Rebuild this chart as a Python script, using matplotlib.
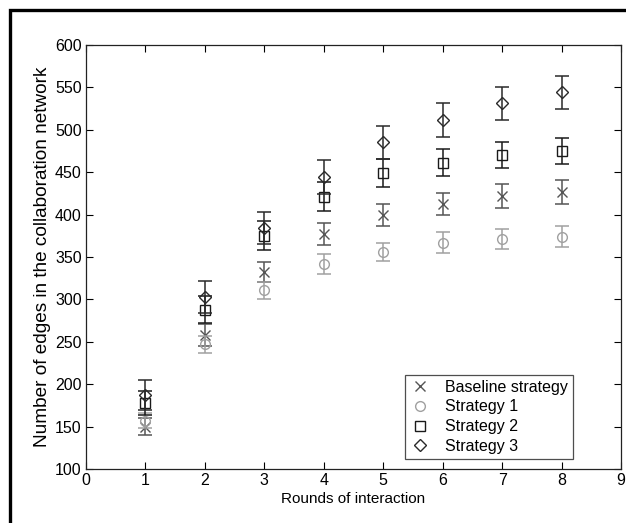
import matplotlib
matplotlib.use("Agg")
import matplotlib.pyplot as plt
from matplotlib.patches import Rectangle

plt.rcParams['font.family'] = ['Liberation Sans', 'DejaVu Sans']

rounds = [1, 2, 3, 4, 5, 6, 7, 8]

baseline = [150, 258, 332, 377, 399, 413, 422, 427]
baseline_err = [10, 13, 12, 13, 13, 13, 14, 14]

strategy1 = [157, 247, 311, 342, 356, 367, 371, 374]
strategy1_err = [9, 10, 10, 12, 11, 12, 12, 12]

strategy2 = [178, 288, 375, 421, 449, 461, 470, 475]
strategy2_err = [14, 16, 17, 17, 16, 16, 15, 15]

strategy3 = [187, 303, 384, 444, 485, 511, 531, 544]
strategy3_err = [18, 19, 19, 20, 20, 20, 20, 19]

series = [
    ("Baseline strategy", baseline, baseline_err, "x", "#555555"),
    ("Strategy 1", strategy1, strategy1_err, "o", "#a0a0a0"),
    ("Strategy 2", strategy2, strategy2_err, "s", "#1a1a1a"),
    ("Strategy 3", strategy3, strategy3_err, "D", "#2a2a2a"),
]

fig = plt.figure(figsize=(6.26, 5.23), dpi=100)
ax = fig.add_axes([0.1374, 0.1033, 0.8546, 0.8107])

handles = []
for name, vals, err, mk, col in series:
    ms = 6 if mk == "D" else 7
    ax.errorbar(rounds, vals, yerr=err, fmt="none", ecolor=col, elinewidth=1.1,
                capsize=5, capthick=1.1)
    h, = ax.plot(rounds, vals, linestyle="none", marker=mk, markersize=ms,
                 markerfacecolor="none", markeredgecolor=col, markeredgewidth=1.0,
                 label=name)
    handles.append(h)

ax.set_xlim(0, 9)
ax.set_ylim(100, 600)
ax.set_xticks(range(0, 10))
ax.set_yticks(range(100, 601, 50))
ax.tick_params(direction="in", top=True, right=True, length=5, width=0.8,
               labelsize=11.5, pad=3)
for s in ax.spines.values():
    s.set_linewidth(0.9)
    s.set_color("#222222")

ax.set_xlabel("Rounds of interaction", fontsize=11, labelpad=3)
ax.set_ylabel("Number of edges in the collaboration network", fontsize=13.7, labelpad=3)

leg = ax.legend(handles=handles, loc="lower right", bbox_to_anchor=(0.91, 0.024),
                borderaxespad=0, fontsize=11.5, frameon=True, fancybox=False,
                edgecolor="#222222", handlelength=1.2, handletextpad=1.0,
                borderpad=0.3, labelspacing=0.3)
leg.get_frame().set_linewidth(0.9)

# outer black frame around the figure
fig.patches.append(Rectangle((10 / 626, -0.05), 1.2, 1 - 10 / 523 + 0.05,
                             transform=fig.transFigure, fill=False,
                             edgecolor="black", linewidth=2.4))

fig.savefig("out.png", dpi=100)
